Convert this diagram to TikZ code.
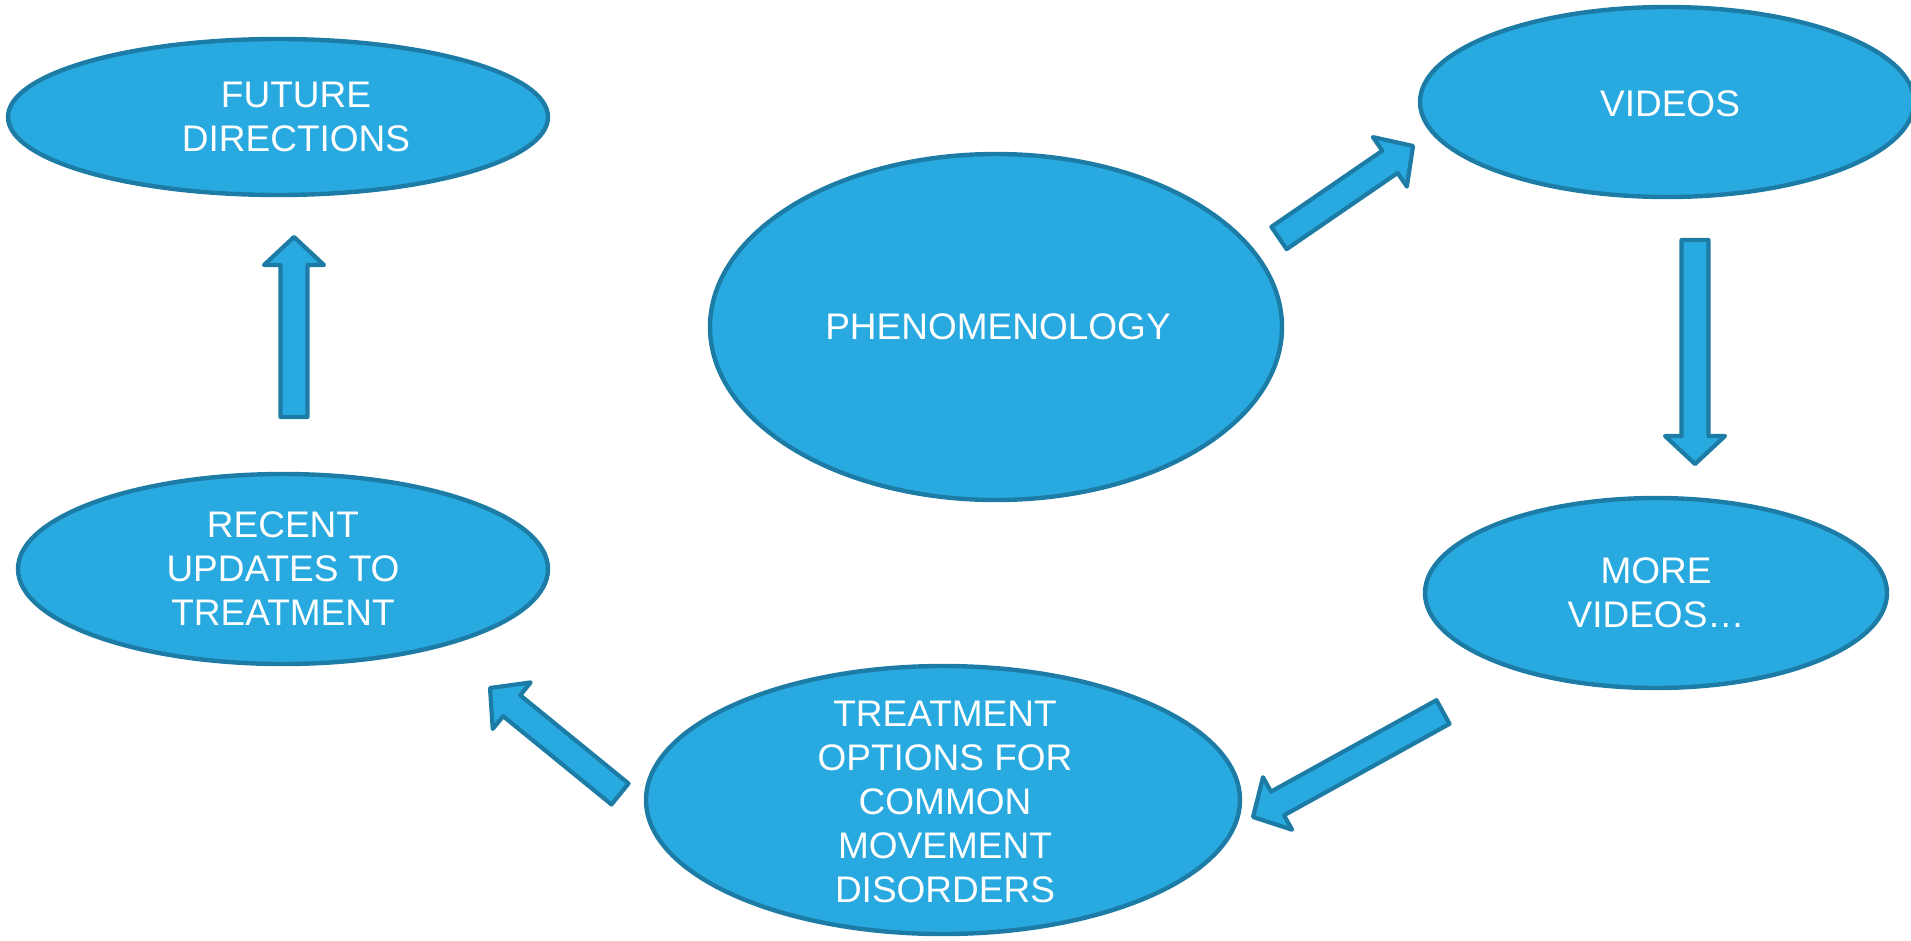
\documentclass[tikz,border=0pt]{standalone}
\usepackage{fontspec}
\setmainfont{Liberation Sans}
\usetikzlibrary{calc,shapes.geometric}
\definecolor{bfill}{RGB}{40,169,224}
\definecolor{bline}{RGB}{29,124,166}
\tikzset{
  oval/.style={ellipse,draw=bline,fill=bfill,line width=4.4pt,inner sep=0pt},
  lbl/.style={text=white,align=center,inner sep=0pt,font=\fontsize{37}{44}\selectfont},
  barrow/.style={draw=bline,fill=bfill,line width=4.2pt,line join=round}
}
\newcommand{\blockarr}[2]{%
  \coordinate (hb) at ($(#2)!28pt!(#1)$);
  \draw[barrow] ($(#1)!13.5pt!90:(#2)$) -- ($(hb)!13.5pt!90:(#2)$) -- ($(hb)!30pt!90:(#2)$)
    -- (#2) -- ($(hb)!30pt!-90:(#2)$) -- ($(hb)!13.5pt!-90:(#2)$) -- ($(#1)!13.5pt!-90:(#2)$) -- cycle;}
\begin{document}
\begin{tikzpicture}[x=1pt,y=-1pt]
\useasboundingbox (0,0) rectangle (1911,940);
% ovals
\node[oval,minimum width=540pt,minimum height=156pt] (future) at (278,117) {};
\node[oval,minimum width=494pt,minimum height=190pt] (videos) at (1667,102) {};
\node[oval,minimum width=572pt,minimum height=346pt] (phen) at (996,327) {};
\node[oval,minimum width=462pt,minimum height=190pt] (more) at (1656,593) {};
\node[oval,minimum width=530pt,minimum height=190pt] (recent) at (283,569) {};
\node[oval,minimum width=594pt,minimum height=268pt] (treat) at (943,800) {};
% labels
\node[lbl] (futureT) at (296,117) {FUTURE\\DIRECTIONS};
\node[lbl] (videosT) at (1670,104) {VIDEOS};
\node[lbl] (phenT) at (998,327) {PHENOMENOLOGY};
\node[lbl] (moreT) at (1656,593) {MORE\\VIDEOS…};
\node[lbl] (recentT) at (283,569) {RECENT\\UPDATES TO\\TREATMENT};
\node[lbl] (treatT) at (945,802) {TREATMENT\\OPTIONS FOR\\COMMON\\MOVEMENT\\DISORDERS};
% arrow end points
\coordinate (a1s) at (1279,238); \coordinate (a1e) at (1413,146);
\coordinate (a2s) at (1695,240); \coordinate (a2e) at (1695,464);
\coordinate (a3s) at (1443,712); \coordinate (a3e) at (1253,817);
\coordinate (a4s) at (620,794);  \coordinate (a4e) at (490,688);
\coordinate (a5s) at (294,417);  \coordinate (a5e) at (294,237);
\blockarr{a1s}{a1e}
\blockarr{a2s}{a2e}
\blockarr{a3s}{a3e}
\blockarr{a4s}{a4e}
\blockarr{a5s}{a5e}
\end{tikzpicture}
\end{document}
